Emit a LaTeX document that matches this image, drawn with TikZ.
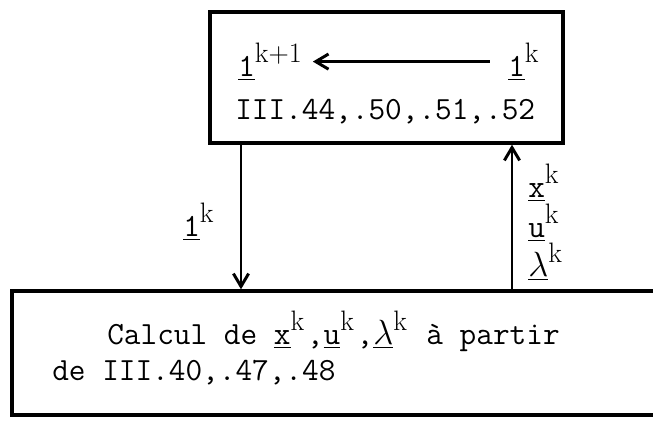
\documentclass[tikz,border=0pt]{standalone}
\usepackage{fontspec}
\usetikzlibrary{arrows.meta}

% raised roman superscript, as typed on the machine
\newcommand{\supk}[1]{\raisebox{10pt}{\rmfamily\fontsize{20}{20}\selectfont #1}\kern2pt\relax}
\newcommand{\uvar}[2]{\underline{#1}\supk{#2}}

\begin{document}
\begin{tikzpicture}[x=0.025cm, y=-0.025cm,
    font=\fontsize{23}{28}\selectfont\ttfamily,
    frame/.style={draw, line width=2.4pt, inner sep=0pt},
    txt/.style={inner sep=0pt, anchor=base west},
    flow/.style={line width=2.1pt, -{Straight Barb[length=3.2mm, width=3.8mm]}}]
    \useasboundingbox (0,0) rectangle (653,425);
    \clip (0,0) rectangle (653,425);

    % Update box
    \node[frame, minimum width=8.825cm, minimum height=3.275cm] (iter) at (386.5,77.5) {};
    \node[txt] (lnew) at (238,77) {\uvar{1}{k+1}};
    \node[txt] (lold) at (508,77) {\uvar{1}{k}};
    \node[txt] (eqtop) at (235,120) {III.44,.50,.51,.52};
    \draw[flow, shorten <=0.45cm, shorten >=0.2cm] (lold) -- (lnew);

    % Computation box
    \node[frame, minimum width=16.7cm, minimum height=3.1cm] (calc) at (346,353) {};
    \node[txt] (calcA) at (107,345) {Calcul de \uvar{x}{k},\uvar{u}{k},\uvar{$\lambda$}{k} à partir};
    \node[txt] (calcB) at (52,381) {de III.40,.47,.48};

    % Connections
    \coordinate (dn) at (241,0);
    \coordinate (up) at (512,0);
    \draw[flow] (iter.south -| dn) -- (calc.north -| dn);
    \draw[flow] (calc.north -| up) -- (iter.south -| up);

    % Labels on the connections
    \node[txt] (lside) at (183,237) {\uvar{1}{k}};
    \node[txt] (xside) at (528,198) {\uvar{x}{k}};
    \node[txt] (uside) at (528,238) {\uvar{u}{k}};
    \node[txt] (mside) at (528,277) {\uvar{$\lambda$}{k}};
\end{tikzpicture}
\end{document}
